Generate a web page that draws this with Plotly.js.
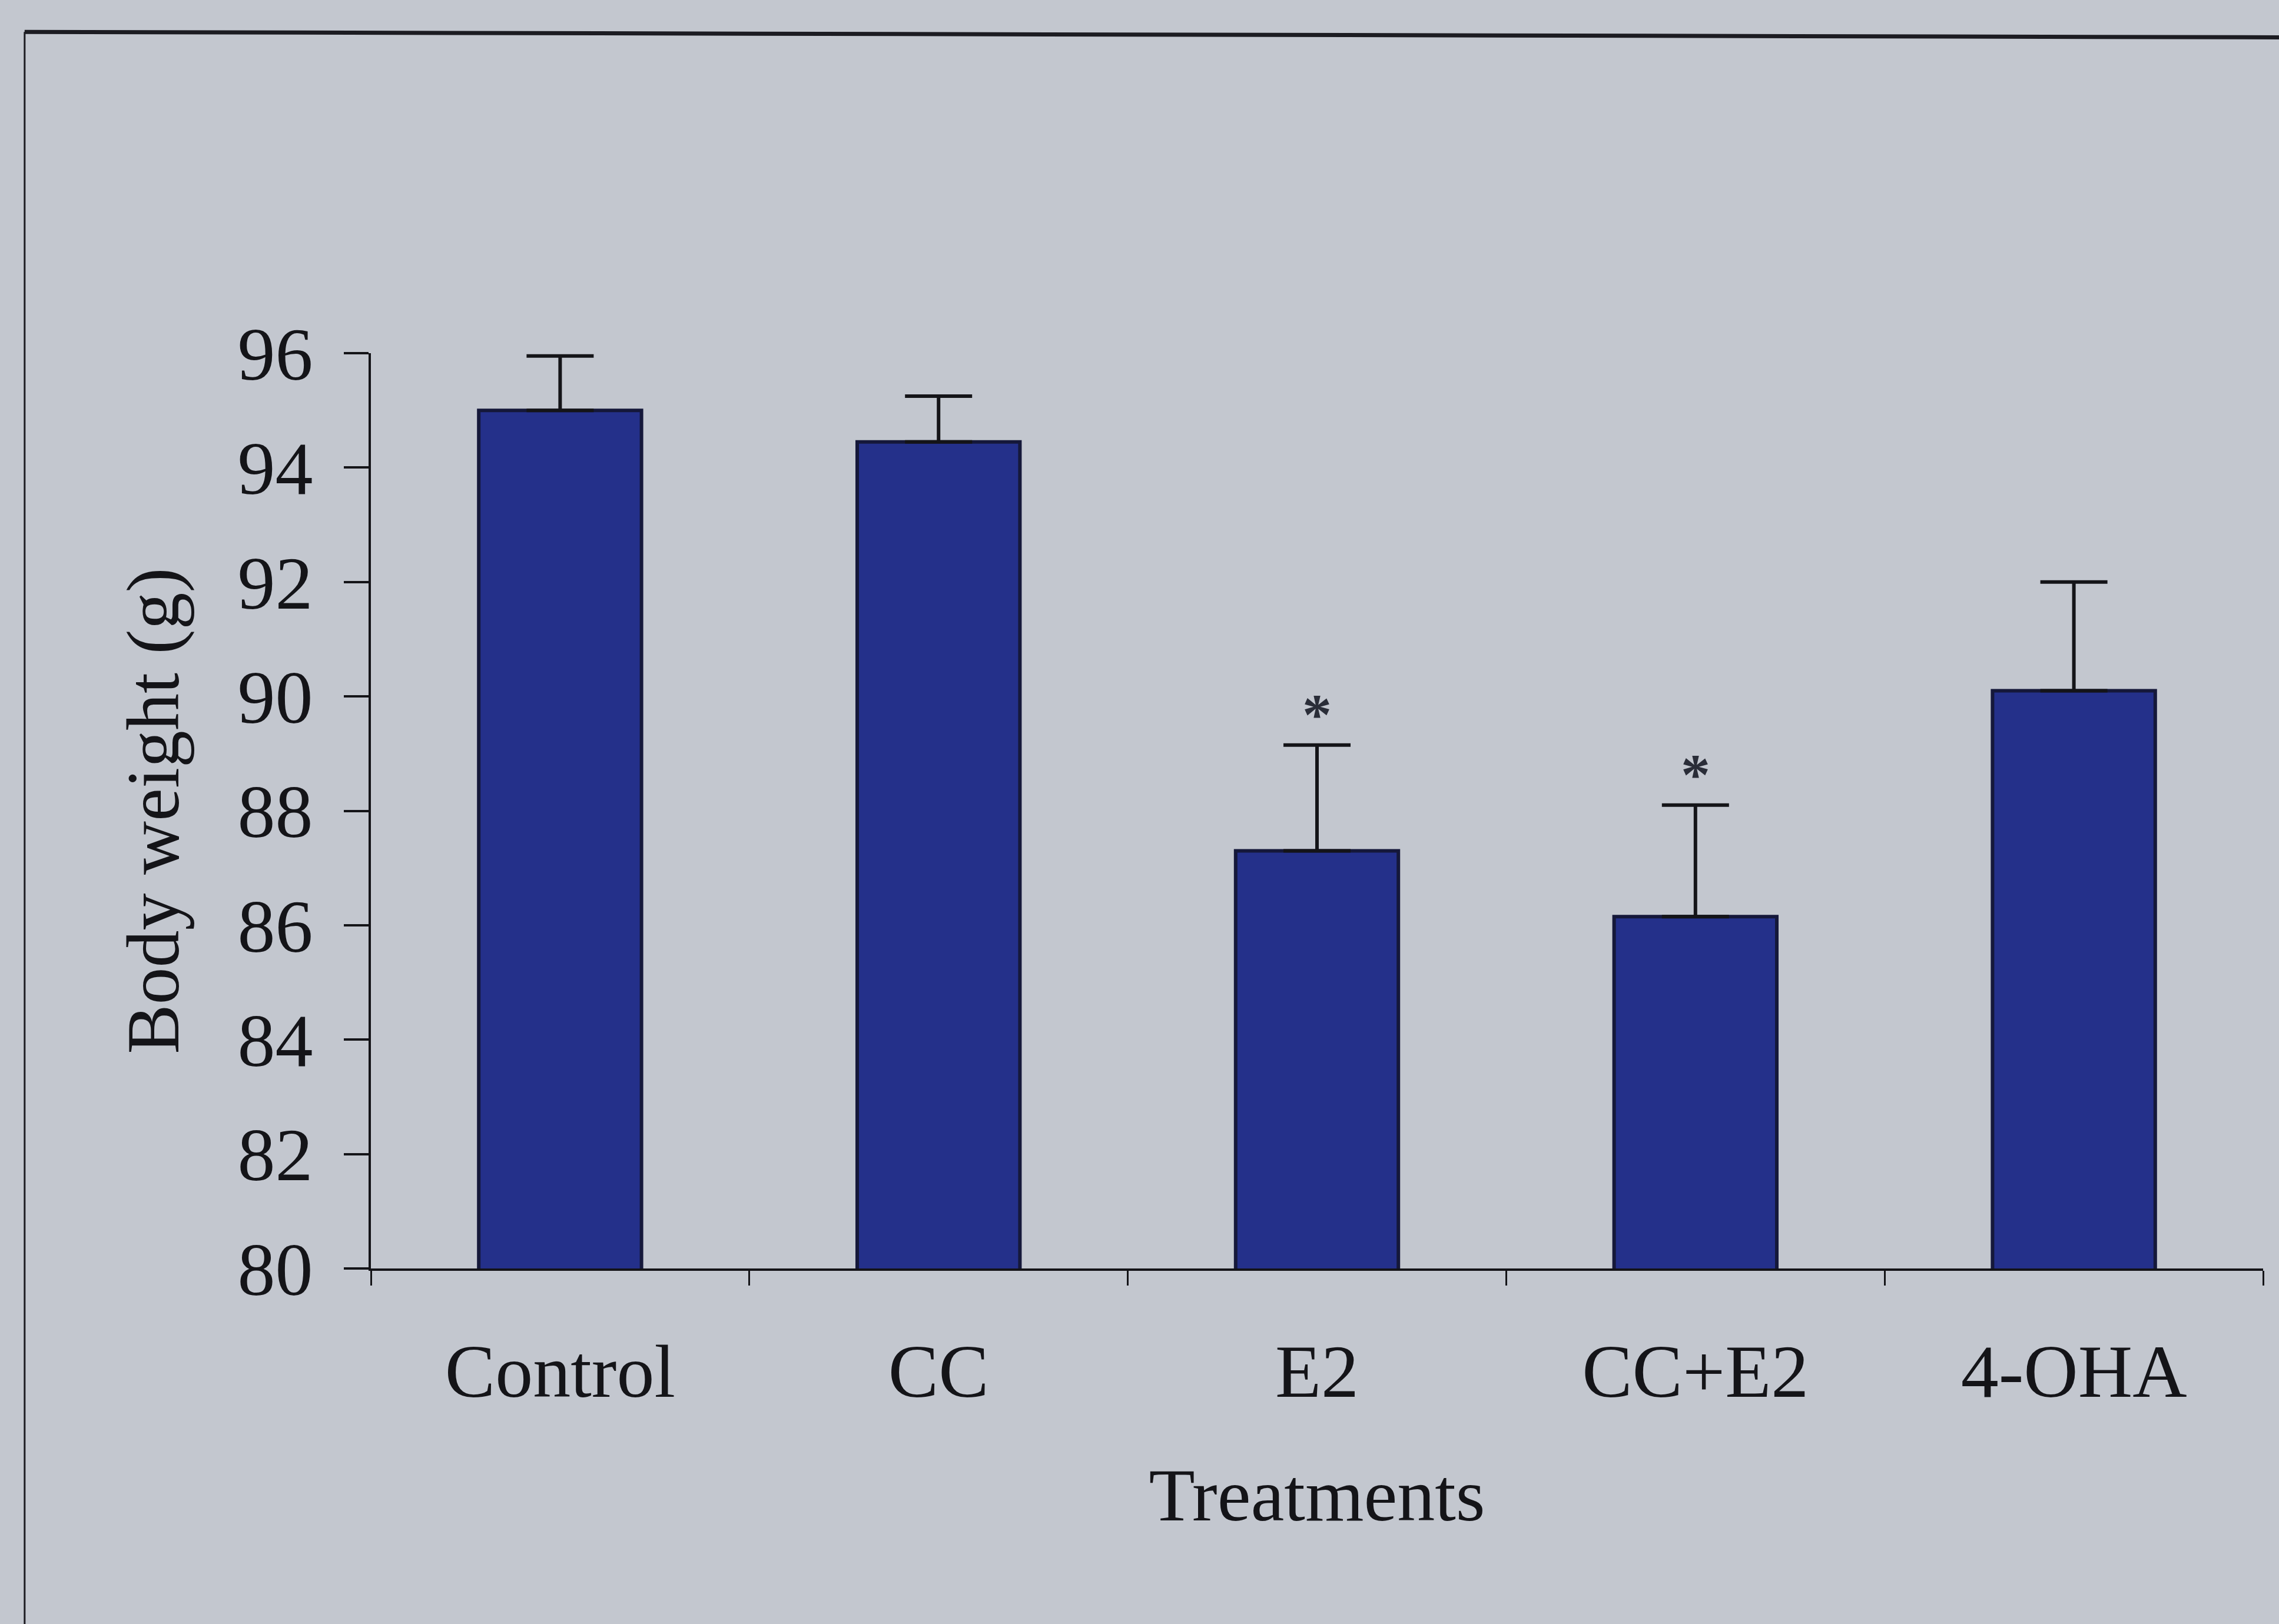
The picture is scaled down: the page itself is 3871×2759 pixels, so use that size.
<!DOCTYPE html>
<html>
<head>
<meta charset="utf-8">
<script src="https://cdn.plot.ly/plotly-3.0.1.min.js"></script>
<style>
html,body{margin:0;padding:0;background:#c3c7cf;}
#chart{width:3871px;height:2759px;}
</style>
</head>
<body>
<div id="chart"></div>
<script>
// Data
const treatments = ["Control", "CC", "E2", "CC+E2", "4-OHA"];
const bodyWeight = [95.0, 94.45, 87.3, 86.15, 90.1];
const semUpper = [0.95, 0.8, 1.85, 1.95, 1.9];
const significance = ["", "", "*", "*", ""];
const yTicks = [80, 82, 84, 86, 88, 90, 92, 94, 96];

const serif = "Liberation Serif, Times New Roman, serif";
const ink = "#141418";

const trace = {
  type: "bar",
  x: treatments,
  y: bodyWeight,
  base: 0,
  marker: {color: "#24308a", line: {color: "#15183a", width: 6}},
  error_y: {
    type: "data",
    symmetric: false,
    array: semUpper,
    arrayminus: treatments.map(() => 0),
    color: ink,
    thickness: 6,
    width: 57
  },
  hoverinfo: "skip",
  showlegend: false
};

const annotations = treatments.map((t, i) => ({
  x: t,
  y: bodyWeight[i] + semUpper[i],
  xref: "x", yref: "y",
  text: significance[i] ? "<b>" + significance[i] + "</b>" : "",
  showarrow: false,
  yanchor: "middle",
  yshift: 52,
  font: {family: serif, size: 100, color: "#2a2d38"}
})).filter(a => a.text !== "");

const layout = {
  width: 3871,
  height: 2759,
  margin: {l: 630, r: 27, t: 600, b: 604},
  paper_bgcolor: "#c3c7cf",
  plot_bgcolor: "#c3c7cf",
  bargap: 0.57,
  font: {family: serif, color: ink, size: 128},
  xaxis: {
    type: "category",
    range: [-0.5, 4.5],
    showline: true,
    linecolor: ink,
    linewidth: 4,
    ticks: "outside",
    tickson: "boundaries",
    ticklen: 25,
    tickwidth: 3,
    tickcolor: ink,
    tickfont: {family: serif, size: 128, color: ink},
    ticklabelstandoff: 60,
    showgrid: false,
    zeroline: false,
    title: {text: "Treatments", font: {family: serif, size: 128, color: ink}, standoff: 95}
  },
  yaxis: {
    range: [80, 96],
    tickvals: yTicks,
    ticktext: yTicks.map(String),
    showline: true,
    linecolor: ink,
    linewidth: 4,
    ticks: "outside",
    ticklen: 42,
    tickwidth: 4,
    tickcolor: ink,
    tickfont: {family: serif, size: 128, color: ink},
    ticklabelstandoff: 27,
    showgrid: false,
    zeroline: false,
    title: {text: "Body weight (g)", font: {family: serif, size: 126, color: ink}, standoff: 58}
  },
  annotations: annotations,
  shapes: [
    {type: "line", xref: "paper", yref: "paper", x0: -0.183, x1: 1.02, y0: 1.351, y1: 1.345,
     line: {color: "#1c1c22", width: 7}},
    {type: "line", xref: "paper", yref: "paper", x0: -0.183, x1: -0.183, y0: 1.351, y1: -0.4,
     line: {color: "#1c1c22", width: 3}}
  ]
};

Plotly.newPlot("chart", [trace], layout, {staticPlot: true, displayModeBar: false});
</script>
</body>
</html>
